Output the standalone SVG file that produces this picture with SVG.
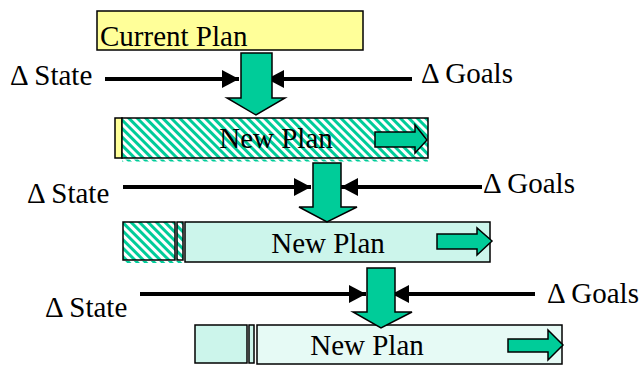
<svg xmlns="http://www.w3.org/2000/svg" width="644" height="365" viewBox="0 0 644 365">
<style>
  text { font-family: 'Liberation Serif', 'DejaVu Serif', serif; font-size: 29px; fill: #000; }
  .box { stroke: #000; stroke-width: 1.5; }
  .garrow { fill: #00CC99; stroke: #000; stroke-width: 1.5; stroke-linejoin: miter; }
  .conn { stroke: #000; stroke-width: 4; fill: none; marker-end: url(#ah); }
</style>
<defs>
  <pattern id="hatch" width="6" height="6" patternUnits="userSpaceOnUse" patternTransform="rotate(-45)">
    <rect width="6" height="6" fill="#fff"/>
    <rect width="3" height="6" fill="#00CC99"/>
  </pattern>
  <marker id="ah" markerUnits="userSpaceOnUse" markerWidth="18" markerHeight="18" refX="17" refY="9" orient="auto">
    <path d="M0,0 L17,9 L0,18 Z" fill="#000"/>
  </marker>
</defs>

<g id="current-plan">
  <rect class="box" x="97" y="11" width="266" height="39" fill="#FFFF99"/>
  <text x="100" y="46">Current Plan</text>
</g>

<g id="plan-2">
  <rect class="box" x="115" y="118" width="7" height="40" fill="#FFFF99"/>
  <rect class="box" x="122" y="118" width="306" height="40" fill="url(#hatch)"/>
  <rect x="122" y="159.5" width="306" height="2" fill="url(#hatch)"/>
  <text x="276" y="148" text-anchor="middle">New Plan</text>
  <path class="garrow" d="M375,132 L415,132 L415,125 L427,140 L415,153 L415,147 L375,147 Z"/>
</g>

<g id="plan-3">
  <rect class="box" x="123" y="222" width="52" height="38" fill="url(#hatch)"/>
  <rect class="box" x="177" y="222" width="6" height="38" fill="url(#hatch)"/>
  <rect class="box" x="185" y="222" width="305" height="40" fill="#CCF5EB"/>
  <rect x="123" y="261" width="60" height="2" fill="url(#hatch)"/>
  <text x="328" y="253" text-anchor="middle">New Plan</text>
  <path class="garrow" d="M437,234 L477,234 L477,228 L492,241 L477,255 L477,249 L437,249 Z"/>
</g>

<g id="plan-4">
  <rect class="box" x="195" y="325" width="52" height="38" fill="#CCF5EB"/>
  <rect class="box" x="249" y="325" width="5" height="38" fill="#CCF5EB"/>
  <rect class="box" x="257" y="325" width="305" height="39" fill="#E6FAF5"/>
  <text x="367" y="355" text-anchor="middle">New Plan</text>
  <path class="garrow" d="M508,339 L548,339 L548,330 L563,345 L548,360 L548,352 L508,352 Z"/>
</g>

<g id="labels">
  <text x="10" y="85">Δ State</text>
  <text x="421" y="83">Δ Goals</text>
  <text x="27" y="203">Δ State</text>
  <text x="483" y="193">Δ Goals</text>
  <text x="45" y="317">Δ State</text>
  <text x="547" y="303">Δ Goals</text>
</g>

<g id="connectors">
  <line class="conn" x1="105" y1="79" x2="239" y2="79"/>
  <line class="conn" x1="412" y1="79" x2="267" y2="79"/>
  <path class="garrow" d="M241,53 L272,53 L272,98 L285,98 L256,115 L227,98 L241,98 Z"/>

  <line class="conn" x1="123" y1="187" x2="311" y2="187"/>
  <line class="conn" x1="482" y1="187" x2="341" y2="187"/>
  <path class="garrow" d="M313,163 L341,163 L341,207 L357,207 L327,222 L299,207 L313,207 Z"/>

  <line class="conn" x1="140" y1="294" x2="366" y2="294"/>
  <line class="conn" x1="535" y1="294" x2="392" y2="294"/>
  <path class="garrow" d="M367,268 L395,268 L395,312 L412,312 L381,328 L353,312 L367,312 Z"/>
</g>
</svg>
